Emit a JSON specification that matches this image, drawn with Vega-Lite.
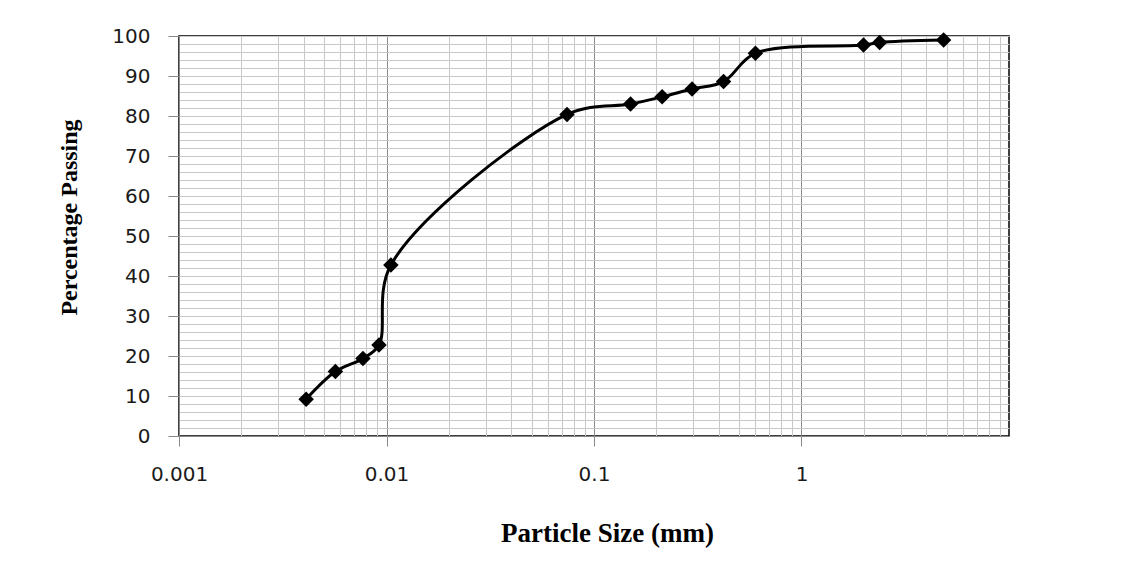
{
  "$schema": "https://vega.github.io/schema/vega-lite/v6.json",
  "autosize": "none",
  "width": 830,
  "height": 400,
  "padding": {"left": 179, "top": 36, "right": 138, "bottom": 140},
  "background": "white",
  "config": {
    "view": {"stroke": "#000000", "strokeWidth": 1.5},
    "axis": {"labelFont": "DejaVu Sans", "labelFontSize": 20, "labelColor": "#1a1a1a", "titleFont": "Liberation Serif", "titleFontWeight": "bold", "titleFontSize": 24, "titleColor": "#000000", "domainColor": "#888888", "tickColor": "#888888"}
  },
  "data": {"values": [
    {"size": 0.0041, "pct": 9.2},
    {"size": 0.00567, "pct": 16.1},
    {"size": 0.0077, "pct": 19.4},
    {"size": 0.0092, "pct": 22.75},
    {"size": 0.0105, "pct": 42.75},
    {"size": 0.0741, "pct": 80.4},
    {"size": 0.15, "pct": 83.0},
    {"size": 0.213, "pct": 84.8},
    {"size": 0.297, "pct": 86.75},
    {"size": 0.421, "pct": 88.6},
    {"size": 0.6, "pct": 95.7},
    {"size": 1.99, "pct": 97.75},
    {"size": 2.38, "pct": 98.4},
    {"size": 4.84, "pct": 99.0}
  ]},
  "encoding": {
    "x": {"field": "size", "type": "quantitative",
      "scale": {"type": "log", "domain": [0.001, 10], "nice": false},
      "axis": {
        "title": "Particle Size (mm)",
        "titleFontSize": 27,
        "values": [0.001,0.002,0.003,0.004,0.005,0.006,0.007,0.008,0.009,0.01,0.02,0.03,0.04,0.05,0.06,0.07,0.08,0.09,0.1,0.2,0.3,0.4,0.5,0.6,0.7,0.8,0.9,1,2,3,4,5,6,7,8,9],
        "labelExpr": "indexof([0.001,0.01,0.1,1], datum.value) >= 0 ? toString(datum.value) : ''",
        "gridColor": {"condition": {"test": "indexof([0.001,0.01,0.1,1], datum.value) >= 0", "value": "#8a8a8a"}, "value": "#c8c8c8"},
        "tickOpacity": {"condition": {"test": "indexof([0.001,0.01,0.1,1], datum.value) >= 0", "value": 1}, "value": 0},
        "tickSize": 10,
        "labelPadding": 18,
        "labelOverlap": false,
        "labelFlush": false,
        "titleX": 428,
        "titleY": 97,
        "titleBaseline": "middle",
        "titleAlign": "center"
      }
    },
    "y": {"field": "pct", "type": "quantitative",
      "scale": {"domain": [0, 100], "nice": false},
      "axis": {
        "title": "Percentage Passing",
        "values": [0,2,4,6,8,10,12,14,16,18,20,22,24,26,28,30,32,34,36,38,40,42,44,46,48,50,52,54,56,58,60,62,64,66,68,70,72,74,76,78,80,82,84,86,88,90,92,94,96,98,100],
        "labelExpr": "datum.value % 10 == 0 ? datum.label : ''",
        "gridColor": "#c8c8c8",
        "tickOpacity": {"condition": {"test": "datum.value % 10 == 0", "value": 1}, "value": 0},
        "tickSize": 11,
        "labelPadding": 18,
        "labelOverlap": false,
        "labelFlush": false,
        "titleAngle": -90,
        "titleX": -110,
        "titleY": 181,
        "titleBaseline": "middle",
        "titleAlign": "center"
      }
    }
  },
  "layer": [
    {"mark": {"type": "line", "interpolate": "catmull-rom", "color": "#000000", "strokeWidth": 3}},
    {"mark": {"type": "point", "shape": "diamond", "filled": true, "color": "#000000", "size": 240, "opacity": 1}}
  ]
}
